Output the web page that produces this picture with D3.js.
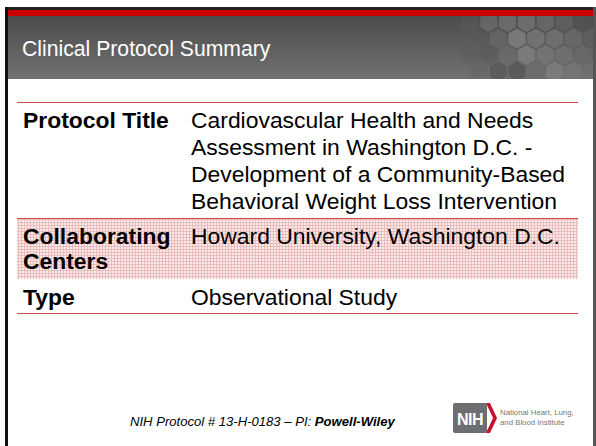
<!DOCTYPE html>
<html>
<head>
<meta charset="utf-8">
<script src="https://cdn.jsdelivr.net/npm/d3@7"></script>
<style>
  html, body { margin: 0; padding: 0; background: #fff; }
  svg { display: block; font-family: "Liberation Sans", Arial, sans-serif; }
</style>
</head>
<body>
<div id="slide"></div>
<script>
// Slide size
const width = 596;
const height = 446;

// Table content
const rowLabels = [["Protocol Title"], ["Collaborating", "Centers"], ["Type"]];
const rowValues = [
  ["Cardiovascular Health and Needs", "Assessment in Washington D.C. -",
   "Development of a Community-Based", "Behavioral Weight Loss Intervention"],
  ["Howard University, Washington D.C."],
  ["Observational Study"]
];
const rowTops = [102, 218, 279, 313];
const rowShaded = [false, true, false];

const title = "Clinical Protocol Summary";
const footerPlain = "NIH Protocol # 13-H-0183 \u2013 PI: ";
const footerBold = "Powell-Wiley";
const logoLines = ["National Heart, Lung,", "and Blood Institute"];

const RED = '#d24a4a';

const svg = d3.select('#slide').append('svg')
  .attr('width', width)
  .attr('height', height);

const defs = svg.append('defs');

// header gradient
const grad = defs.append('linearGradient')
  .attr('id', 'hdr').attr('x1', 0).attr('y1', 0).attr('x2', 0).attr('y2', 1);
grad.append('stop').attr('offset', '0%').attr('stop-color', '#4b4b4b');
grad.append('stop').attr('offset', '100%').attr('stop-color', '#727272');

// pink dotted fill for shaded row
const pat = defs.append('pattern')
  .attr('id', 'pink').attr('width', 3).attr('height', 3)
  .attr('patternUnits', 'userSpaceOnUse');
pat.append('rect').attr('width', 3).attr('height', 3).attr('fill', '#fbeaea');
pat.append('rect').attr('width', 3).attr('height', 1).attr('fill', '#ebbcbc');
pat.append('rect').attr('width', 1).attr('height', 3).attr('fill', '#ebbcbc');

// frame
svg.append('rect').attr('x', 5).attr('y', 7).attr('width', 590).attr('height', 3).attr('fill', '#222');
svg.append('rect').attr('x', 5).attr('y', 7).attr('width', 3).attr('height', height).attr('fill', '#111');
svg.append('rect').attr('x', 593).attr('y', 7).attr('width', 3).attr('height', height).attr('fill', '#555');

// header band
svg.append('rect').attr('x', 8).attr('y', 10).attr('width', 585).attr('height', 6).attr('fill', '#cc0000');
svg.append('rect').attr('x', 8).attr('y', 16).attr('width', 585).attr('height', 63).attr('fill', 'url(#hdr)');

// hexagon decoration on the right of the header
const hexR = 10;
const hexW = Math.sqrt(3) * hexR;
const shades = ['#6c6c6c', '#5f5f5f', '#747474', '#585858', '#686868', '#7c7c7c', '#525252', '#707070'];
const hexCells = [];
for (let r = 0; r < 5; r++) {
  for (let c = 0; c < 8; c++) {
    hexCells.push({ x: 470 + c * (hexW + 1.5) + (r % 2) * (hexW + 1.5) / 2, y: 22 + r * 16.5, k: (r * 3 + c * 5) % shades.length });
  }
}
const hexPts = d3.range(6).map(i => {
  const a = Math.PI / 3 * i + Math.PI / 6;
  return [hexR * Math.cos(a), hexR * Math.sin(a)];
});
defs.append('clipPath').attr('id', 'hclip')
  .append('rect').attr('x', 8).attr('y', 16).attr('width', 585).attr('height', 63);
const hg = svg.append('g').attr('clip-path', 'url(#hclip)');
hg.selectAll('polygon')
  .data(hexCells)
  .enter()
  .append('polygon')
  .attr('points', d => hexPts.map(p => [d.x + p[0], d.y + p[1]].join(',')).join(' '))
  .attr('fill', d => shades[d.k])
  .attr('opacity', d => Math.max(0, Math.min(0.9, (d.x - 455) / 70)));

svg.append('text')
  .attr('x', 22).attr('y', 56)
  .attr('fill', '#fff')
  .attr('font-size', 21.2)
  .text(title);

// table rows
const table = svg.append('g');
table.selectAll('rect.row')
  .data(rowShaded)
  .enter()
  .append('rect')
  .attr('class', 'row')
  .attr('x', 17).attr('width', 561)
  .attr('y', (d, i) => rowTops[i])
  .attr('height', (d, i) => rowTops[i + 1] - rowTops[i])
  .attr('fill', d => d ? 'url(#pink)' : '#fff');

table.selectAll('line.sep')
  .data([0, 1, 3])
  .enter()
  .append('line')
  .attr('x1', 17).attr('x2', 578)
  .attr('y1', d => rowTops[d] + 0.5).attr('y2', d => rowTops[d] + 0.5)
  .attr('stroke', RED).attr('stroke-width', 1);

const fs = 22.9;
const lineH = 27;
rowLabels.forEach((lines, i) => {
  const t = table.append('text')
    .attr('x', 23).attr('y', rowTops[i] + 26)
    .attr('font-size', fs).attr('font-weight', 'bold').attr('fill', '#000');
  lines.forEach((s, j) => t.append('tspan').attr('x', 23).attr('dy', j ? 25 : 0).text(s));
});
rowValues.forEach((lines, i) => {
  const t = table.append('text')
    .attr('x', 191).attr('y', rowTops[i] + 26)
    .attr('font-size', fs).attr('fill', '#000');
  lines.forEach((s, j) => t.append('tspan').attr('x', 191).attr('dy', j ? lineH : 0).text(s));
});

// footer
const ft = svg.append('text')
  .attr('x', 130).attr('y', 426)
  .attr('font-size', 13.1).attr('font-style', 'italic').attr('fill', '#000');
ft.append('tspan').text(footerPlain);
ft.append('tspan').attr('font-weight', 'bold').text(footerBold);

// NIH logo
const logo = svg.append('g');
logo.append('rect').attr('x', 453).attr('y', 403).attr('width', 34).attr('height', 30).attr('rx', 2).attr('fill', '#6d6e71');
logo.append('path')
  .attr('d', 'M486,403 L490,403 L497,418 L490,433 L486,433 L493,418 Z')
  .attr('fill', '#c8102e');
logo.append('text')
  .attr('x', 470).attr('y', 425)
  .attr('text-anchor', 'middle')
  .attr('font-size', 16).attr('font-weight', 'bold').attr('fill', '#fff')
  .attr('letter-spacing', -0.5)
  .text('NIH');
logo.selectAll('text.cap')
  .data(logoLines)
  .enter()
  .append('text')
  .attr('class', 'cap')
  .attr('x', 500).attr('y', (d, i) => 415 + i * 10)
  .attr('font-size', 7.8).attr('fill', '#777')
  .text(d => d);
</script>
</body>
</html>
